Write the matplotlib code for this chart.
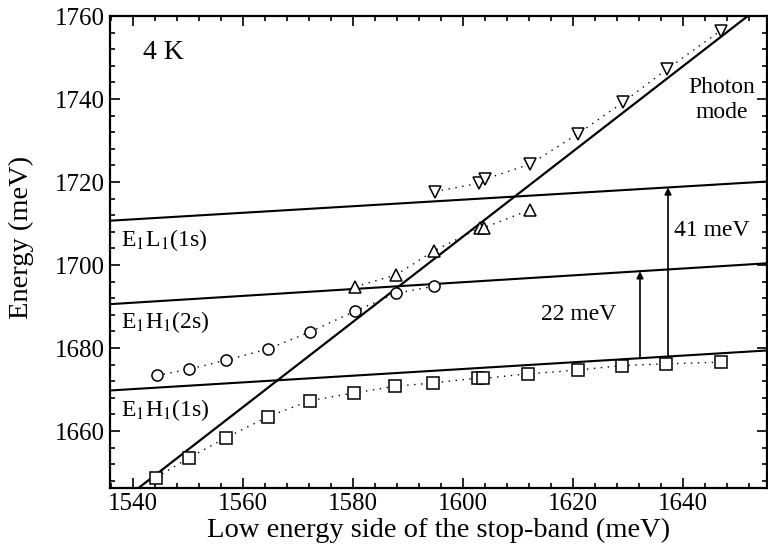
import matplotlib
matplotlib.use("Agg")
import matplotlib.pyplot as plt
from matplotlib.ticker import MultipleLocator

plt.rcParams['font.family'] = ['Liberation Serif', 'DejaVu Serif']
plt.rcParams['mathtext.fontset'] = 'stix'

# lower polariton (squares)
sq_x = [1544.2, 1550.2, 1556.9, 1564.6, 1572.1, 1580.2, 1587.6, 1594.6,
        1602.8, 1603.7, 1611.9, 1620.9, 1628.9, 1636.9, 1646.9]
sq_y = [1648.8, 1653.6, 1658.4, 1663.5, 1667.3, 1669.2, 1670.8, 1671.6,
        1672.8, 1672.7, 1673.8, 1674.7, 1675.8, 1676.2, 1676.6]
# 2s branch (circles)
ci_x = [1544.3, 1550.2, 1556.9, 1564.6, 1572.2, 1580.4, 1587.8, 1594.7]
ci_y = [1673.4, 1674.9, 1677.1, 1679.8, 1683.9, 1688.9, 1693.2, 1694.9]
# middle branch (up triangles)
up_x = [1580.4, 1587.8, 1594.7, 1603.1, 1603.8, 1612.2]
up_y = [1694.8, 1697.6, 1703.4, 1709.0, 1709.0, 1713.3]
# upper branch (down triangles)
dn_x = [1594.9, 1602.9, 1604.0, 1612.2, 1620.9, 1629.1, 1637.1, 1646.9]
dn_y = [1717.7, 1719.7, 1720.7, 1724.3, 1731.6, 1739.2, 1747.2, 1756.5]

# uncoupled modes (end points)
exc_x = [1536, 1655]
e1l1_y = [1710.7, 1720.1]
e1h1_2s_y = [1690.6, 1700.4]
e1h1_1s_y = [1669.8, 1679.4]
phot_x = [1541.0, 1651.8]
phot_y = [1646.3, 1760.0]

# splitting arrows: x, bottom, top
arr_22 = (1632.2, 1677.6, 1698.5)
arr_41 = (1637.3, 1678.0, 1718.7)

fig = plt.figure(figsize=(7.68, 5.52), dpi=100)
ax = fig.add_axes([0.1432, 0.116, 0.8555, 0.855])

for y in (e1l1_y, e1h1_2s_y, e1h1_1s_y):
    ax.plot(exc_x, y, color='black', lw=1.5)
ax.plot(phot_x, phot_y, color='black', lw=1.6)

dots = dict(color='black', lw=1.0, linestyle=(0, (1, 4)))
mk = dict(mfc='white', mec='black', mew=1.1, ms=8, linestyle='none')
ax.plot(sq_x, sq_y, **dots)
ax.plot(ci_x, ci_y, **dots)
ax.plot(up_x, up_y, **dots)
ax.plot(dn_x, dn_y, **dots)
ax.plot(sq_x, sq_y, marker='s', **mk)
ax.plot(ci_x, ci_y, marker='o', **mk)
ax.plot(up_x, up_y, marker='^', **mk)
ax.plot(dn_x, dn_y, marker='v', **mk)

for x, y0, y1 in (arr_22, arr_41):
    ax.annotate('', xy=(x, y1), xytext=(x, y0),
                arrowprops=dict(arrowstyle='-|>', color='black', lw=1.2,
                                mutation_scale=10, shrinkA=0, shrinkB=0))

ax.text(1621.1, 1688.2, '22 meV', fontsize=17, ha='center', va='center')
ax.text(1645.3, 1708.4, '41 meV', fontsize=17, ha='center', va='center')
ax.text(1545.6, 1751.3, '4 K', fontsize=20, ha='center', va='center')
ax.text(1647.1, 1739.8, 'Photon\nmode', fontsize=17, ha='center', va='center',
        linespacing=1.25)
ax.text(1537.8, 1706.0, r'E$_1$L$_1$(1s)', fontsize=17, ha='left', va='center')
ax.text(1537.8, 1686.3, r'E$_1$H$_1$(2s)', fontsize=17, ha='left', va='center')
ax.text(1537.8, 1665.1, r'E$_1$H$_1$(1s)', fontsize=17, ha='left', va='center')

ax.set_xlim(1535.8, 1655.3)
ax.set_ylim(1646.3, 1760)
ax.xaxis.set_major_locator(MultipleLocator(20))
ax.xaxis.set_minor_locator(MultipleLocator(4))
ax.yaxis.set_major_locator(MultipleLocator(20))
ax.yaxis.set_minor_locator(MultipleLocator(4))
ax.tick_params(which='both', direction='in', top=True, right=True,
               labelsize=18, width=1.2)
ax.tick_params(which='major', length=7)
ax.tick_params(which='minor', length=3.5)
for s in ax.spines.values():
    s.set_linewidth(1.6)

ax.set_xlabel('Low energy side of the stop-band (meV)', fontsize=20.5, labelpad=2)
ax.set_ylabel('Energy (meV)', fontsize=20.5)
ax.yaxis.set_label_coords(-0.115, 0.53)

fig.savefig('out.png', dpi=100)
